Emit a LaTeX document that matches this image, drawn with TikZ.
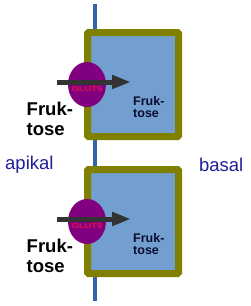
\documentclass[tikz,border=0pt]{standalone}
\usepackage{fontspec}
\setmainfont{Liberation Sans}
\usetikzlibrary{arrows.meta,shapes.geometric}
\definecolor{membr}{HTML}{3465A4}
\definecolor{olivec}{HTML}{808000}
\definecolor{cellfill}{HTML}{729FCF}
\definecolor{glut}{HTML}{800080}
\definecolor{arr}{HTML}{333333}
\definecolor{lbl}{HTML}{1E1E96}
\definecolor{glutred}{HTML}{E8104A}
\definecolor{inner}{HTML}{0A0A30}
\begin{document}
\begin{tikzpicture}[x=1pt,y=-1pt,
  cellbox/.style={draw=olivec,line width=7pt,fill=cellfill,rounded corners=1pt},
  transporter/.style={ellipse,fill=glut,minimum width=38pt,minimum height=45pt,inner sep=0pt},
  flow/.style={draw=arr,line width=5pt,-{Triangle[length=19pt,width=13pt]}},
  bigtxt/.style={font=\fontsize{18.5}{20}\selectfont\bfseries,align=left,inner sep=0pt,anchor=north west},
  smalltxt/.style={font=\fontsize{12.5}{12}\selectfont\bfseries,text=inner,align=left,inner sep=0pt,anchor=north west},
  gluttxt/.style={font=\fontsize{7}{7}\selectfont\bfseries,text=glutred,inner sep=0pt,xscale=1.35,transform shape},
  side/.style={font=\fontsize{18.5}{18}\selectfont,text=lbl,inner sep=0pt}
]
\useasboundingbox (0,0) rectangle (250,306);
% membrane
\coordinate (mtop) at (95,4);
\coordinate (mbot) at (95,301);
\draw[membr,line width=4pt] (mtop) -- (mbot);
\foreach \oy/\n in {0/a,137/b}{
  \begin{scope}[yshift=-\oy pt]
  \draw[cellbox] (87.5,32.5) rectangle (178.5,136.5);
  \node[transporter] (t\n) at (87,84.5) {};
  \coordinate (s\n) at (57,82);
  \coordinate (e\n) at (131,82);
  \draw[flow] (s\n) -- (e\n);
  \node[gluttxt] (g\n) at (87,89.5) {GLUT5};
  \node[bigtxt] (f\n) at (26.5,102) {Fruk-\\tose};
  \node[smalltxt] (i\n) at (133,96) {Fruk-\\tose};
  \end{scope}
}
\node[side,anchor=west] (ap) at (5,165) {apikal};
\node[side,anchor=east] (ba) at (243.5,165) {basal};
\end{tikzpicture}
\end{document}
